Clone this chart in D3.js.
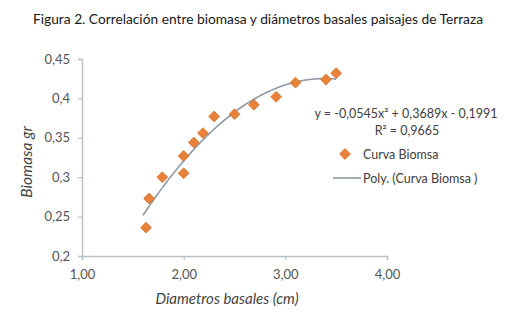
<!DOCTYPE html>
<html><head><meta charset="utf-8">
<script src="https://cdn.jsdelivr.net/npm/d3@7"></script>
<style>body{margin:0;background:#fff}svg{display:block}</style>
</head><body>
<script>
const diametros = [1.63, 1.66, 1.79, 2.0, 2.0, 2.1, 2.19, 2.3, 2.5, 2.69, 2.91, 3.1, 3.4, 3.5];
const biomasa   = [0.236, 0.273, 0.300, 0.305, 0.327, 0.344, 0.356, 0.377, 0.380, 0.392, 0.402, 0.420, 0.424, 0.432];
const trendCoef = [-0.1991, 0.3689, -0.0545]; // c0, c1, c2
const trendRange = [1.6, 3.5];
const xTicks = [1, 2, 3, 4];
const yTicks = [0.2, 0.25, 0.3, 0.35, 0.4, 0.45];
const title = "Figura 2. Correlación entre biomasa y diámetros basales paisajes de Terraza";
const eqText = "y = -0,0545x² + 0,3689x - 0,1991";
const r2Text = "R² = 0,9665";
const legendNames = ["Curva Biomsa", "Poly. (Curva Biomsa )"];

const W = 514, H = 331;
const svg = d3.select("body").append("svg").attr("width", W).attr("height", H);
const font = "Lato, 'Open Sans', sans-serif";
const x = d3.scaleLinear().domain([1, 4]).range([82, 387]);
const y = d3.scaleLinear().domain([0.2, 0.45]).range([256, 59]);
const fmt = v => d3.format(".2f")(v).replace(".", ",");
const fmtY = v => String(+v.toFixed(2)).replace(".", ",");

svg.append("text").attr("x", 258).attr("y", 24).attr("text-anchor", "middle")
  .attr("font-family", "'Century Gothic', Lato, sans-serif").attr("font-size", 12.5)
  .attr("fill", "#1a1a1a").attr("textLength", 450).attr("lengthAdjust", "spacingAndGlyphs").text(title);

const axisColor = "#b8c0c8";
const gx = svg.append("g").attr("transform", "translate(0,256)")
  .call(d3.axisBottom(x).tickValues(xTicks).tickFormat(fmt).tickSize(4).tickPadding(10));
const gy = svg.append("g").attr("transform", "translate(82,0)")
  .call(d3.axisLeft(y).tickValues(yTicks).tickFormat(fmtY).tickSize(4).tickPadding(8));
[gx, gy].forEach(g => {
  g.select(".domain").attr("stroke", axisColor).attr("stroke-width", 1.5);
  g.selectAll(".tick line").attr("stroke", axisColor).attr("stroke-width", 1.2);
  g.selectAll(".tick text").attr("font-family", font).attr("font-size", 13).attr("fill", "#555");
});

svg.append("text").attr("transform", "translate(32,162) rotate(-90)").attr("text-anchor", "middle")
  .attr("font-family", font).attr("font-style", "italic").attr("font-size", 15.5).attr("fill", "#444").text("Biomasa gr");
svg.append("text").attr("x", 227).attr("y", 304).attr("text-anchor", "middle")
  .attr("font-family", font).attr("font-style", "italic").attr("font-size", 15).attr("fill", "#444").text("Diametros basales (cm)");

// trend line
const trendXs = d3.range(trendRange[0], trendRange[1] + 0.001, 0.02);
const poly = v => trendCoef[0] + trendCoef[1] * v + trendCoef[2] * v * v;
svg.append("path").datum(trendXs)
  .attr("d", d3.line().x(d => x(d)).y(d => y(poly(d))))
  .attr("fill", "none").attr("stroke", "#8e9aa6").attr("stroke-width", 1.6);

const diamond = d3.symbol().type(d3.symbolDiamond2).size(75);
const markFill = "#e8823a", markStroke = "#d9702a";
svg.append("g").selectAll("path").data(diametros.map((d, i) => [d, biomasa[i]])).join("path")
  .attr("transform", d => `translate(${x(d[0])},${y(d[1])})`)
  .attr("d", diamond).attr("fill", markFill).attr("stroke", markStroke).attr("stroke-width", 0.8);

// equation
svg.append("text").attr("x", 406).attr("y", 118).attr("text-anchor", "middle")
  .attr("font-family", font).attr("font-size", 12.5).attr("fill", "#404040").text(eqText);
svg.append("text").attr("x", 407).attr("y", 135).attr("text-anchor", "middle")
  .attr("font-family", font).attr("font-size", 12.5).attr("fill", "#404040").text(r2Text);

// legend
svg.append("path").attr("transform", "translate(345,154)").attr("d", diamond)
  .attr("fill", markFill).attr("stroke", markStroke).attr("stroke-width", 0.8);
svg.append("text").attr("x", 363).attr("y", 158.5).attr("font-family", font).attr("font-size", 12.5)
  .attr("fill", "#404040").text(legendNames[0]);
svg.append("line").attr("x1", 333).attr("x2", 361).attr("y1", 178).attr("y2", 178)
  .attr("stroke", "#8e9aa6").attr("stroke-width", 1.6);
svg.append("text").attr("x", 363).attr("y", 182.5).attr("font-family", font).attr("font-size", 12.5)
  .attr("fill", "#404040").text(legendNames[1]);
</script>
</body></html>
